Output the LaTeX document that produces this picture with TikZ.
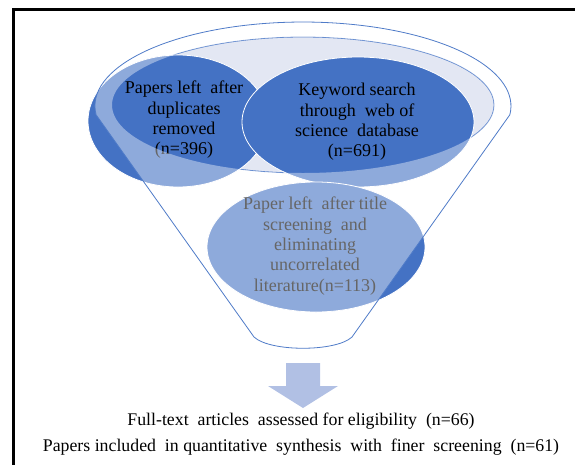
\documentclass[tikz,border=0pt]{standalone}
\usepackage{fontspec}
\setmainfont{Liberation Serif}
\usetikzlibrary{shapes.geometric}
\definecolor{dblue}{HTML}{4472C4}
\definecolor{lav}{HTML}{E3E7F3}
\definecolor{arrowc}{HTML}{B1C0E4}
\definecolor{rimc}{HTML}{4F7BC8}
\begin{document}
\begin{tikzpicture}[x=1pt,y=-1pt,
  ell/.style={ellipse, draw=white, line width=0.8pt, fill=dblue, inner sep=0pt},
  txt/.style={align=center, inner sep=0pt, font=\fontsize{18}{20.3}\selectfont},
  btxt/.style={inner sep=0pt, font=\fontsize{17.8}{20}\selectfont}]
\useasboundingbox (0,0) rectangle (575,464);
% frame
\draw[line width=3pt] (13.5,470) -- (13.5,9.5) -- (580,9.5);
% inner rim (lavender opening)
\draw[rimc, line width=0.8pt, fill=lav] (303,105) ellipse [x radius=191, y radius=68];
% ellipses
\node[ell, minimum width=180pt, minimum height=132pt] (e1) at (178,121) {};
\node[ell, minimum width=232pt, minimum height=130pt] (e2) at (358,122) {};
\node[ell, minimum width=218pt, minimum height=130pt] (e3) at (316,247) {};
% texts
\node[txt] (t1) at (184,120) {Papers left\ \ after\\duplicates\\removed\\(n=396)};
\node[txt] (t2) at (357,122) {Keyword search\\through\ \ web of\\science\ \ database\\(n=691)};
\node[txt] (t3) at (315,246) {Paper left\ \ after title\\screening\ \ and\\eliminating\\uncorrelated\\literature(n=113)};
% funnel body overlay
\fill[white, fill opacity=0.4, even odd rule]
  (96.1,114.8) arc[start angle=174, end angle=366, x radius=208, y radius=84]
  -- (352,337) .. controls (336,352) and (270,352) .. (254,337) -- cycle
  (303,105) ellipse [x radius=191, y radius=68];
% funnel outline
\draw[rimc, line width=0.8pt]
  (96.1,114.8) arc[start angle=174, end angle=366, x radius=208, y radius=84]
  -- (352,337) .. controls (336,352) and (270,352) .. (254,337) -- cycle;
% arrow
\fill[arrowc] (286,363) -- (320,363) -- (320,386) -- (338,386) -- (303,408)
  -- (268,386) -- (286,386) -- cycle;
% bottom texts
\node[btxt] (b1) at (301,421) {Full-text\ \ articles\ \ assessed for eligibility\ \ (n=66)};
\node[btxt] (b2) at (301,447) {Papers included\ \ in quantitative\ \ synthesis\ \ with\ \ finer\ \ screening\ \ (n=61)};
\end{tikzpicture}
\end{document}
